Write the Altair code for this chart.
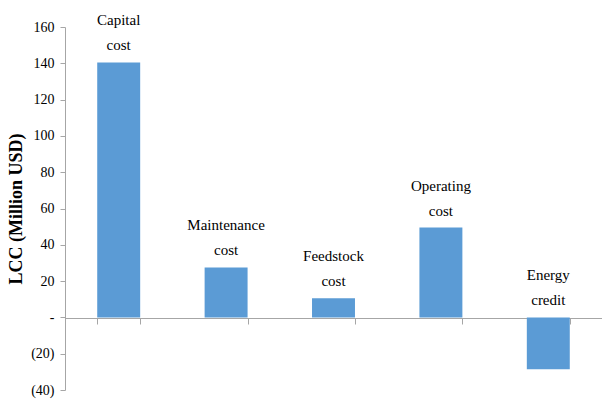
import altair as alt
import pandas as pd

categories = ["Capital cost", "Maintenance cost", "Feedstock cost", "Operating cost", "Energy credit"]
line1 = ["Capital", "Maintenance", "Feedstock", "Operating", "Energy"]
line2 = ["cost", "cost", "cost", "cost", "credit"]
values = [140.5, 27.5, 10.5, 49.5, -28.5]

df = pd.DataFrame({"category": categories, "line1": line1, "line2": line2, "value": values})
df["labelpos"] = df["value"].clip(lower=0)

FONT = "Liberation Serif"

x_axis = alt.Axis(labels=False, tickBand="extent", offset=-72, domainColor="#a6a6a6",
                  tickColor="#a6a6a6", tickSize=6, grid=False)
x_scale = alt.Scale(paddingInner=0.6, paddingOuter=0.3)

y_scale = alt.Scale(domain=[-40, 160], nice=False, zero=False)
y_axis = alt.Axis(values=list(range(-40, 161, 20)), grid=False, labelOverlap=False,
                  labelExpr="datum.value == 0 ? '-' : (datum.value < 0 ? '(' + abs(datum.value) + ')' : datum.value)",
                  labelFont=FONT, labelFontSize=14, labelColor="#000000", labelPadding=6,
                  domainColor="#a6a6a6", tickColor="#a6a6a6", tickSize=5,
                  titleFont=FONT, titleFontSize=18, titleFontWeight="bold",
                  titleColor="#000000", titlePadding=5)
YT = "LCC (Million USD)"

bars = alt.Chart(df).mark_bar(color="#5B9BD5").encode(
    x=alt.X("category:N", sort=categories, title=None, scale=x_scale, axis=x_axis),
    y=alt.Y("value:Q", scale=y_scale, title=YT, axis=y_axis),
)

t1 = alt.Chart(df).mark_text(font=FONT, fontSize=15, baseline="bottom", dy=-34,
                             color="#000000").encode(
    x=alt.X("category:N", sort=categories, title=None, scale=x_scale, axis=x_axis),
    y=alt.Y("labelpos:Q", scale=y_scale, title=YT, axis=y_axis),
    text="line1:N",
)
t2 = alt.Chart(df).mark_text(font=FONT, fontSize=15, baseline="bottom", dy=-9,
                             color="#000000").encode(
    x=alt.X("category:N", sort=categories, title=None, scale=x_scale, axis=x_axis),
    y=alt.Y("labelpos:Q", scale=y_scale, title=YT, axis=y_axis),
    text="line2:N",
)

chart = (bars + t1 + t2).properties(
    width=537, height=363,
    autosize=alt.AutoSizeParams(type="none"),
    padding={"left": 65, "top": 27, "right": 0, "bottom": 13},
).configure_view(stroke=None)

chart.save("out.html", embed_options={"renderer": "svg", "actions": False})
